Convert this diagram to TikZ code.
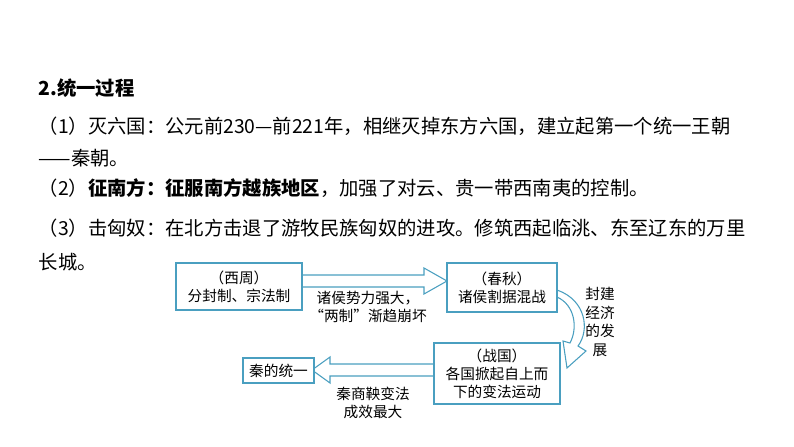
\documentclass[tikz,border=0pt]{standalone}
\usepackage{fontspec}
\setmainfont{Noto Sans CJK SC}
\newfontfamily\cjk{Noto Sans CJK SC}
\begin{document}
\begin{tikzpicture}[x=0.75pt,y=-0.75pt,
  bx/.style={draw=boxc,line width=0.9pt,fill=white,inner sep=0pt,align=center,font=\fontsize{11pt}{13.5pt}\selectfont},
  lb/.style={align=center,font=\fontsize{11pt}{14pt}\selectfont},
  tx/.style={anchor=west,font=\fontsize{14.5pt}{16pt}\selectfont},
  ar/.style={draw=boxc,line width=0.8pt,fill=white}]
\definecolor{boxc}{HTML}{4A9FC0}
\useasboundingbox (0,0) rectangle (794,447);
\node[tx,font=\fontsize{14.5pt}{16pt}\selectfont\bfseries] (h) at (34,88) {2.统一过程};
\node[tx] (l1) at (34,126) {（1）灭六国：公元前230—前221年，相继灭掉东方六国，建立起第一个统一王朝};
\node[tx] (l1b) at (34,158) {——秦朝。};
\node[tx] (l2) at (34,188) {（2）\textbf{征南方：征服南方越族地区}，加强了对云、贵一带西南夷的控制。};
\node[tx] (l3) at (34,228) {（3）击匈奴：在北方击退了游牧民族匈奴的进攻。修筑西起临洮、东至辽东的万里};
\node[tx] (l3b) at (34,262) {长城。};
% arrows
\draw[ar] (302,275) -- (424,275) -- (424,268) -- (447,281) -- (424,294) -- (424,287) -- (302,287) -- cycle;
\draw[ar] (434,364) -- (330,364) -- (330,357) -- (312,370) -- (330,383) -- (330,376) -- (434,376) -- cycle;
\draw[ar] (557,290) .. controls (586,300) and (590,330) .. (578,346) -- (586,351) -- (567,368) -- (563,341) -- (570,343) .. controls (578,328) and (575,305) .. (557,297) -- cycle;
% boxes
\node[bx,text width=126*0.75pt,minimum height=47*0.75pt] (xz) at (239,286.5) {（西周）\\分封制、宗法制};
\node[bx,text width=110*0.75pt,minimum height=49*0.75pt] (cq) at (502,287.5) {（春秋）\\诸侯割据混战};
\node[bx,text width=126*0.75pt,minimum height=61*0.75pt] (zg) at (497,373.5) {（战国）\\各国掀起自上而\\下的变法运动};
\node[bx,text width=71*0.75pt,minimum height=25*0.75pt] (qin) at (278.5,370.5) {秦的统一};
\node[lb] (a1) at (368,307) {诸侯势力强大，\\“两制”渐趋崩坏};
\node[lb] (a2) at (373,403) {秦商鞅变法\\成效最大};
\node[lb] (a3) at (600,322) {封建\\经济\\的发\\展};
\end{tikzpicture}
\end{document}
